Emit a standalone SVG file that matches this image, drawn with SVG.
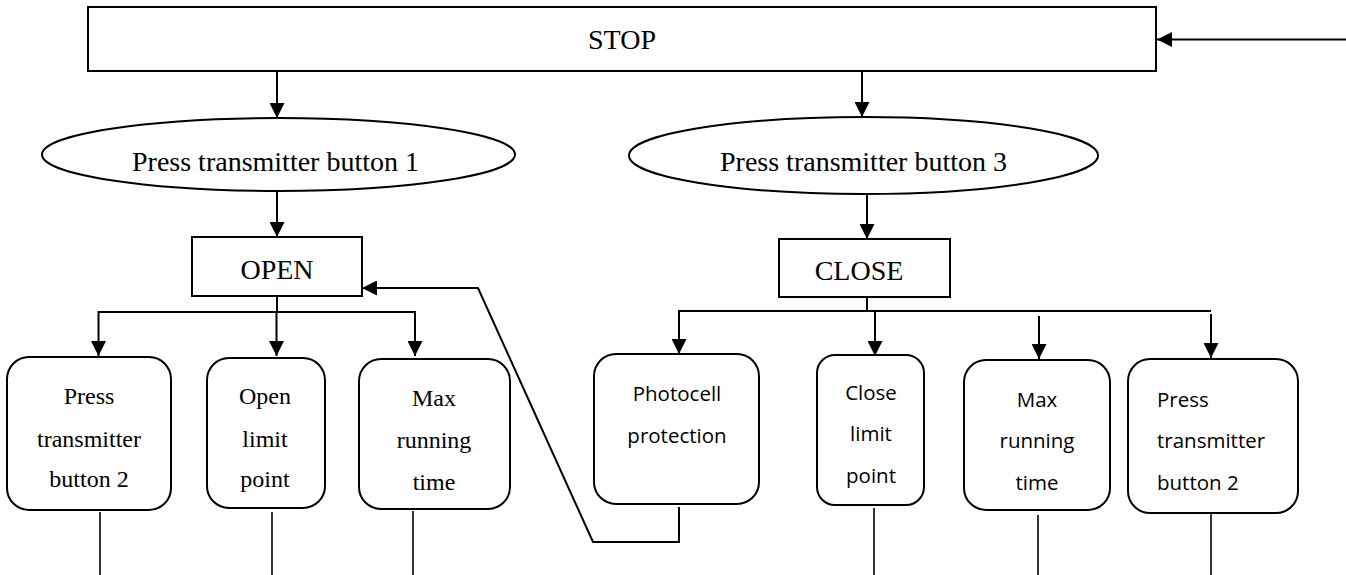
<svg xmlns="http://www.w3.org/2000/svg" width="1346" height="575" viewBox="0 0 1346 575">
  <style>
    .box { fill: #fff; stroke: #000; stroke-width: 2; }
    .line { fill: none; stroke: #000; stroke-width: 2; }
    .thin { fill: none; stroke: #000; stroke-width: 1.6; }
    .arrow { fill: none; stroke: #000; stroke-width: 2; marker-end: url(#head); }
    .serif { font-family: "Liberation Serif", "Times New Roman", serif; fill: #000; }
    .big { font-size: 28px; }
    .mid { font-size: 24px; }
    .sans { font-family: "Open Sans", "Liberation Sans", sans-serif; font-size: 20.5px; fill: #000; }
    .c { text-anchor: middle; }
  </style>
  <defs>
    <marker id="head" markerUnits="userSpaceOnUse" markerWidth="15" markerHeight="15" refX="15" refY="7.5" orient="auto">
      <path d="M0,0 L15,7.5 L0,15 z" fill="#000"/>
    </marker>
  </defs>

  <rect width="1346" height="575" fill="#fff"/>

  <g id="connectors">
    <!-- entry into STOP from the right -->
    <line class="arrow" x1="1346" y1="39.5" x2="1157" y2="39.5"/>
    <!-- STOP to the two transmitter buttons -->
    <line class="arrow" x1="277" y1="71" x2="277" y2="118"/>
    <line class="arrow" x1="862" y1="71" x2="862" y2="117"/>
    <!-- buttons to OPEN / CLOSE -->
    <line class="arrow" x1="277" y1="191" x2="277" y2="237"/>
    <line class="arrow" x1="867" y1="194" x2="867" y2="239"/>
    <!-- OPEN branches -->
    <line class="line" x1="277" y1="296" x2="277" y2="312"/>
    <line class="line" x1="98" y1="312" x2="416" y2="312"/>
    <line class="arrow" x1="98.5" y1="311" x2="98.5" y2="356"/>
    <line class="arrow" x1="276.5" y1="312" x2="276.5" y2="356"/>
    <line class="arrow" x1="415" y1="311" x2="415" y2="356"/>
    <!-- CLOSE branches -->
    <line class="line" x1="867" y1="297" x2="867" y2="311"/>
    <line class="line" x1="678" y1="311" x2="1211" y2="311"/>
    <line class="arrow" x1="679" y1="310" x2="679" y2="354"/>
    <line class="arrow" x1="875" y1="311" x2="875" y2="356"/>
    <line class="arrow" x1="1039" y1="316" x2="1039" y2="359"/>
    <line class="arrow" x1="1211" y1="314" x2="1211" y2="358"/>
    <!-- photocell return to OPEN -->
    <polyline class="arrow" points="679,507 679,542 593,542 478,288 362,288"/>
    <!-- exits below the end conditions -->
    <line class="thin" x1="100" y1="512" x2="100" y2="575"/>
    <line class="thin" x1="272" y1="512" x2="272" y2="575"/>
    <line class="thin" x1="413" y1="511" x2="413" y2="575"/>
    <line class="thin" x1="874" y1="508" x2="874" y2="575"/>
    <line class="thin" x1="1038" y1="515" x2="1038" y2="575"/>
    <line class="thin" x1="1211" y1="513" x2="1211" y2="575"/>
  </g>

  <g id="stop">
    <rect class="box" x="88" y="7" width="1068" height="64"/>
    <text class="serif big c" x="622" y="49">STOP</text>
  </g>

  <g id="button1">
    <ellipse class="box" cx="278.5" cy="154.5" rx="236.5" ry="36.5"/>
    <text class="serif big" x="132" y="171">Press transmitter button 1</text>
  </g>

  <g id="button3">
    <ellipse class="box" cx="863.5" cy="155.5" rx="234.5" ry="38.5"/>
    <text class="serif big" x="720" y="171">Press transmitter button 3</text>
  </g>

  <g id="open">
    <rect class="box" x="192" y="237" width="170" height="59"/>
    <text class="serif big c" x="277" y="279">OPEN</text>
  </g>

  <g id="close">
    <rect class="box" x="779" y="239" width="171" height="58"/>
    <text class="serif big c" x="859" y="280">CLOSE</text>
  </g>

  <g id="open-button2">
    <rect class="box" x="7" y="357" width="164" height="153" rx="22"/>
    <text class="serif mid c" x="89" y="404">Press</text>
    <text class="serif mid c" x="89" y="447">transmitter</text>
    <text class="serif mid c" x="89" y="487">button 2</text>
  </g>

  <g id="open-limit">
    <rect class="box" x="207" y="358" width="118" height="150" rx="22"/>
    <text class="serif mid c" x="265" y="404">Open</text>
    <text class="serif mid c" x="265" y="447">limit</text>
    <text class="serif mid c" x="265" y="487">point</text>
  </g>

  <g id="open-maxtime">
    <rect class="box" x="359" y="359" width="151" height="150" rx="22"/>
    <text class="serif mid c" x="434" y="406">Max</text>
    <text class="serif mid c" x="434" y="448">running</text>
    <text class="serif mid c" x="434" y="490">time</text>
  </g>

  <g id="photocell">
    <rect class="box" x="594" y="354" width="165" height="150" rx="22"/>
    <text class="sans c" x="677" y="401">Photocell</text>
    <text class="sans c" x="677" y="443">protection</text>
  </g>

  <g id="close-limit">
    <rect class="box" x="817" y="355" width="107" height="150" rx="18"/>
    <text class="sans c" x="871" y="400">Close</text>
    <text class="sans c" x="871" y="441">limit</text>
    <text class="sans c" x="871" y="483">point</text>
  </g>

  <g id="close-maxtime">
    <rect class="box" x="964" y="360" width="146" height="150" rx="22"/>
    <text class="sans c" x="1037" y="407">Max</text>
    <text class="sans c" x="1037" y="448">running</text>
    <text class="sans c" x="1037" y="490">time</text>
  </g>

  <g id="close-button2">
    <rect class="box" x="1128" y="359" width="170" height="154" rx="22"/>
    <text class="sans" x="1157" y="407">Press</text>
    <text class="sans" x="1157" y="448">transmitter</text>
    <text class="sans" x="1157" y="490">button 2</text>
  </g>
</svg>
